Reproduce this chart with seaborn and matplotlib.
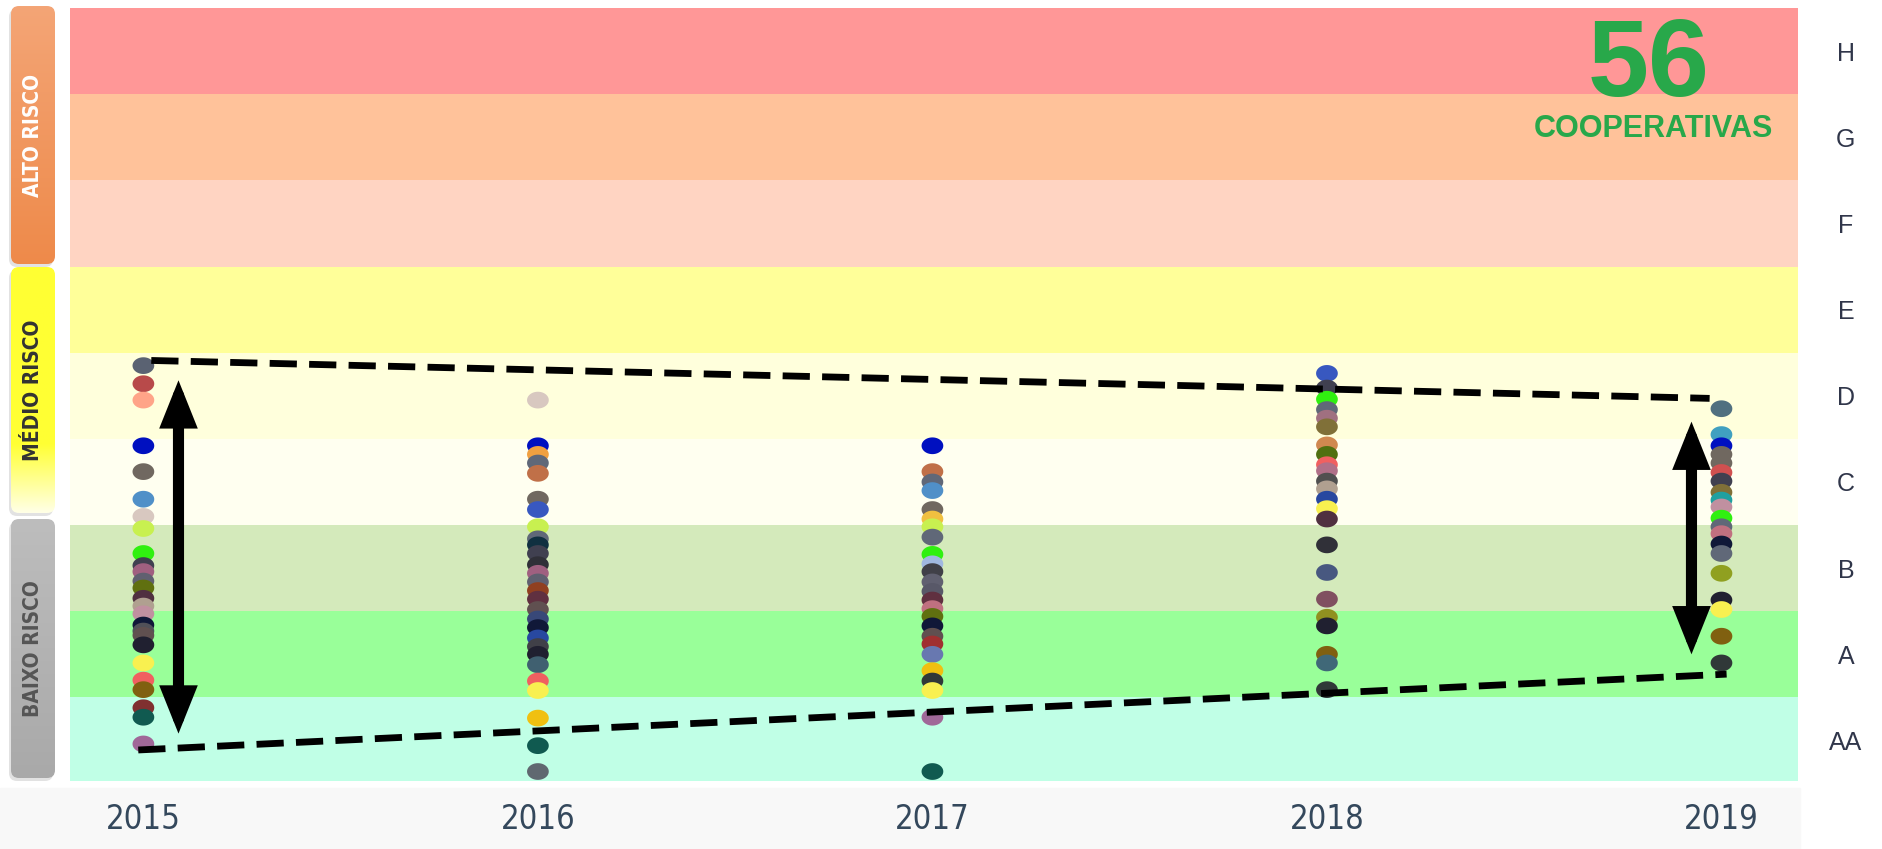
import numpy as np
import pandas as pd
import seaborn as sns
import matplotlib.pyplot as plt
from matplotlib.patches import FancyBboxPatch, FancyArrowPatch, Rectangle
from matplotlib.path import Path
from matplotlib.colors import to_rgba

# categorias e faixas de risco
years = ['2015', '2016', '2017', '2018', '2019']
ratings = ['AA', 'A', 'B', 'C', 'D', 'E', 'F', 'G', 'H']
band_colors = ['#c0ffe6', '#99ff99', '#d4eabb', '#fffff0', '#ffffdc',
               '#ffff99', '#ffd4c2', '#ffc29a', '#ff9797']
risk_groups = ['ALTO RISCO', 'MÉDIO RISCO', 'BAIXO RISCO']

# nota de cada cooperativa por ano
score_2015 = [4.35, 4.14, 3.95, 3.42, 3.12, 2.80, 2.60, 2.46, 2.17, 2.03, 1.96, 1.85, 1.77,
              1.65, 1.56, 1.47, 1.34, 1.27, 1.22, 1.11, 0.90, 0.70, 0.59, 0.38, 0.27, -0.04]
color_2015 = ['#5a6272', '#b84a4a', '#ffa488', '#0010c0', '#706860', '#5090c8', '#d8c8c0',
              '#c8f050', '#30f010', '#404050', '#a06080', '#606070', '#607010', '#503040',
              '#b0a090', '#c090a0', '#101838', '#505058', '#605050', '#202030', '#f8f050',
              '#f06060', '#806010', '#803030', '#105a50', '#a06898']

score_2016 = [3.95, 3.42, 3.32, 3.22, 3.10, 2.80, 2.68, 2.48, 2.34, 2.27, 2.17, 2.04, 1.94, 1.84,
              1.74, 1.64, 1.52, 1.41, 1.31, 1.19, 1.09, 1.00, 0.88, 0.69, 0.58, 0.26, -0.06, -0.36]
color_2016 = ['#d8c8c0', '#0010c0', '#f0a040', '#606878', '#c07048', '#706860', '#3858c0',
              '#c8f050', '#606878', '#103040', '#404050', '#303038', '#a06080', '#606070',
              '#904020', '#603040', '#605050', '#384878', '#101838', '#2848a0', '#404048',
              '#202030', '#406070', '#f06060', '#f8f050', '#f0c010', '#105a50', '#606870']

score_2017 = [3.42, 3.12, 3.00, 2.90, 2.68, 2.57, 2.48, 2.36, 2.16, 2.05, 1.96, 1.84, 1.73,
              1.63, 1.53, 1.44, 1.33, 1.21, 1.12, 1.00, 0.81, 0.69, 0.58, 0.27, -0.36]
color_2017 = ['#0010c0', '#c07048', '#606878', '#5090c8', '#706860', '#f0c040', '#c8f050',
              '#606878', '#30f010', '#a0b8e0', '#404048', '#606070', '#585868', '#603040',
              '#c07080', '#607010', '#101838', '#605050', '#a03030', '#6878b0', '#f0c010',
              '#303838', '#f8f050', '#a06898', '#105a50']

score_2018 = [4.26, 4.09, 3.96, 3.84, 3.74, 3.64, 3.43, 3.32, 3.20, 3.13, 3.01, 2.92, 2.80,
              2.69, 2.57, 2.27, 1.95, 1.64, 1.43, 1.33, 1.00, 0.90, 0.59]
color_2018 = ['#3858c0', '#404050', '#30f010', '#606878', '#a07080', '#807038', '#d08850',
              '#507010', '#f06060', '#b07088', '#505050', '#b0a090', '#2848a0', '#f8f050',
              '#503040', '#303038', '#485880', '#805060', '#909020', '#202030', '#806010',
              '#406878', '#303838']

score_2019 = [3.85, 3.55, 3.42, 3.32, 3.22, 3.11, 3.01, 2.88, 2.79, 2.71, 2.58, 2.48, 2.40,
              2.28, 2.17, 1.94, 1.63, 1.52, 1.21, 0.90]
color_2019 = ['#507080', '#40a0c0', '#0010c0', '#706860', '#706860', '#d05050', '#404050',
              '#807038', '#20a0a0', '#c090a0', '#30f010', '#606878', '#c07080', '#101838',
              '#606878', '#90a020', '#202030', '#f8f050', '#806010', '#303838']

total_coops = 56

# linhas tracejadas (limites da faixa) e setas de amplitude
upper_x, upper_y = [0.02, 3.97], [4.41, 3.97]
lower_x, lower_y = [-0.013, 4.013], [-0.11, 0.77]
arrow_2015 = [0.08, 4.18]
arrow_2019 = [1.00, 3.70]

scores = [score_2015, score_2016, score_2017, score_2018, score_2019]
colors = [color_2015, color_2016, color_2017, color_2018, color_2019]
df = pd.concat([pd.DataFrame({'ano': years[i], 'pos': i, 'nota': s, 'cor': c})
                for i, (s, c) in enumerate(zip(scores, colors))], ignore_index=True)

sns.set_style('white')
plt.rcParams['font.family'] = ['Liberation Sans', 'DejaVu Sans']
narrow = dict(fontfamily='DejaVu Sans', fontstretch='condensed')

fig = plt.figure(figsize=(18.83, 8.49), dpi=100)
fig.patches.append(Rectangle((0, 0), 1800 / 1883, 61 / 849, transform=fig.transFigure,
                             color='#f8f8f8', zorder=-5))
ax = fig.add_axes([70 / 1883, 68 / 849, 1728 / 1883, 773 / 849])

# faixas coloridas
for i, c in enumerate(band_colors):
    ax.axhspan(i - 0.5, i + 0.5, color=c, lw=0, zorder=0)

# bolinhas elípticas
t = np.linspace(0, 2 * np.pi, 60)
ellipse = Path(np.column_stack([1.3 * np.cos(t), np.sin(t)]))
sns.scatterplot(data=df, x='pos', y='nota', hue='cor', palette={c: c for c in df['cor'].unique()},
                marker=ellipse, s=245, linewidth=0, legend=False, ax=ax, zorder=3)

ax.plot(upper_x, upper_y, color='black', lw=4.9, dashes=(4, 1.8), dash_capstyle='butt', zorder=4)
ax.plot(lower_x, lower_y, color='black', lw=4.9, dashes=(4, 1.8), dash_capstyle='butt', zorder=4)

for xa, (y0, y1) in [(0.089, arrow_2015), (3.924, arrow_2019)]:
    ax.add_patch(FancyArrowPatch((xa, y0), (xa, y1), arrowstyle='<|-|>,head_length=2.0,head_width=0.8',
                                 mutation_scale=10, lw=8, color='black', shrinkA=0, shrinkB=0,
                                 joinstyle='miter', zorder=5))

ax.set_xlim(-0.186, 4.194)
ax.set_ylim(-0.47, 8.5)
ax.set_xlabel('')
ax.set_ylabel('')
for sp in ax.spines.values():
    sp.set_visible(False)

ax.set_xticks(range(len(years)), labels=years, fontsize=23.5, color='#34485c', **narrow)
ax.set_xticks([-0.186, 1.274, 2.734], minor=True)
ax.tick_params(axis='x', which='major', length=0, pad=16)
ax.tick_params(axis='x', which='minor', length=5, width=1.2, color='#e2e2e2')

ax.yaxis.tick_right()
ax.set_yticks(range(len(ratings)), labels=ratings, ha='center', fontsize=18, color='#30364a')
ax.tick_params(axis='y', length=0, pad=34.5)

ax.text(0.9138, 0.886, str(total_coops), transform=ax.transAxes, ha='center', va='baseline',
        fontsize=79, fontweight='bold', color='#28a84a', zorder=6)
ax.text(0.9161, 0.8435, 'COOPERATIVAS', transform=ax.transAxes, ha='center', va='center',
        fontsize=22, fontweight='bold', color='#28a84a', zorder=6)

# caixas laterais (alto / médio / baixo risco)
lax = fig.add_axes([0, 0, 1, 1], zorder=-1)
lax.set_axis_off()
box_specs = [
    (6, 258, ['#f4a576', '#ee8a4a'], 1.0, 'white'),
    (267, 246, ['#ffff33', '#ffffe6'], 0.72, '#333333'),
    (519, 259, ['#bdbdbd', '#a9a9a9'], 1.0, '#555555'),
]
for label, (y0, h, (c_top, c_bot), fade, tcol) in zip(risk_groups, box_specs):
    shadow = FancyBboxPatch((9, y0 + 3), 44, h, boxstyle='round,pad=0,rounding_size=8',
                            fc='#cfcfcf', ec='none', alpha=0.6)
    lax.add_patch(shadow)
    box = FancyBboxPatch((11, y0), 44, h, boxstyle='round,pad=0,rounding_size=8',
                         fc='none', ec='none')
    lax.add_patch(box)
    f = np.linspace(0, 1, 200)
    f = np.clip((f - fade) / (1 - fade), 0, 1) if fade < 1 else f
    ct, cb = np.array(to_rgba(c_top)), np.array(to_rgba(c_bot))
    grad = (ct[None, :] * (1 - f[:, None]) + cb[None, :] * f[:, None])[:, None, :]
    lax.imshow(grad, extent=(11, 55, y0 + h, y0), aspect='auto', clip_path=box, zorder=2)
    lax.text(33, y0 + h / 2, label, rotation=90, ha='center', va='center', color=tcol,
             fontsize=15, fontweight='bold', zorder=3, **narrow)
lax.set_xlim(0, 1883)
lax.set_ylim(849, 0)

fig.savefig('out.png', dpi=100)
